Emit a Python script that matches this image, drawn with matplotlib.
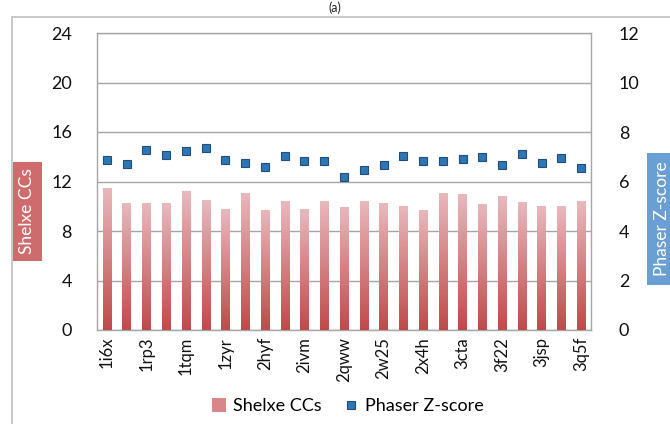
import numpy as np
import matplotlib.pyplot as plt
from matplotlib.patches import Rectangle, Patch
from matplotlib.lines import Line2D
from matplotlib.colors import LinearSegmentedColormap

plt.rcParams['font.family'] = ['Lato', 'DejaVu Sans']

# data
categories = ['1i6x', '', '1rp3', '', '1tqm', '', '1zyr', '', '2hyf', '', '2ivm', '',
              '2qww', '', '2w25', '', '2x4h', '', '3cta', '', '3f22', '', '3jsp', '', '3q5f']
shelxe_cc = [11.5, 10.3, 10.3, 10.25, 11.2, 10.5, 9.75, 11.1, 9.7, 10.4, 9.75, 10.4, 9.95,
             10.4, 10.25, 10.05, 9.7, 11.1, 11.0, 10.2, 10.8, 10.35, 10.05, 10.0, 10.4]
phaser_z = [6.87, 6.71, 7.27, 7.06, 7.25, 7.35, 6.88, 6.75, 6.6, 7.03, 6.84, 6.81, 6.17,
            6.45, 6.65, 7.03, 6.84, 6.81, 6.92, 7.0, 6.68, 7.11, 6.76, 6.96, 6.56]
left_ticks = [0, 4, 8, 12, 16, 20, 24]
right_ticks = [0, 2, 4, 6, 8, 10, 12]

W, H = 670, 424
fig = plt.figure(figsize=(6.7, 4.24), dpi=100)
fig.patch.set_facecolor('white')

def px(x0, y0, w, h):
    # pixel box (top-left origin) -> figure fraction
    return [x0 / W, 1 - (y0 + h) / H, w / W, h / H]

# outer frame of the chart
fig.patches.append(Rectangle((12 / W, -0.1), 1.2, 1 - 17 / H + 0.1, transform=fig.transFigure,
                             fill=False, edgecolor='#bfbfbf', lw=1.2))
fig.text(0.5, 1 - 1 / H, '(a)', ha='center', va='top', fontsize=9, color='#222222')

ax = fig.add_axes(px(97, 33, 494, 297))
x = np.arange(len(categories))
bw = 0.42

cmap = LinearSegmentedColormap.from_list('bar', ['#bf4a4a', '#e9b9bd'])
grad = np.linspace(0, 1, 256).reshape(-1, 1)
bars = ax.bar(x, shelxe_cc, width=bw, color='none', zorder=3)
for b in bars:
    x0, w, h = b.get_x(), b.get_width(), b.get_height()
    im = ax.imshow(grad, cmap=cmap, origin='lower', aspect='auto',
                   extent=(x0, x0 + w, 0, h), zorder=3)
    im.set_clip_path(b)

ax.set_xlim(-0.5, len(categories) - 0.5)
ax.set_ylim(0, 24)
ax.set_yticks(left_ticks)
ax.set_xticks(x)
ax.set_xticklabels(categories, rotation=90, fontsize=12, color='#111111')
ax.tick_params(axis='x', length=0, pad=5)
ax.tick_params(axis='y', length=0, pad=18, labelsize=13, labelcolor='#111111')
ax.grid(axis='y', color='#a6a6a6', lw=1, zorder=0)
ax.set_axisbelow(True)
for s in ax.spines.values():
    s.set_color('#a6a6a6')
    s.set_linewidth(1)

ax2 = ax.twinx()
ax2.plot(x, phaser_z, ls='none', marker='s', ms=6, color='#2e75b6',
         markeredgecolor='#1f4e79', markeredgewidth=0.8, zorder=4)
ax2.set_ylim(0, 12)
ax2.set_yticks(right_ticks)
ax2.tick_params(axis='y', length=0, pad=20, labelsize=13, labelcolor='#111111')
for s in ax2.spines.values():
    s.set_visible(False)

# axis title boxes
fig.patches.append(Rectangle((13 / W, 1 - 261 / H), 29 / W, 99 / H, transform=fig.transFigure,
                             facecolor='#cf6b6d', edgecolor='none'))
fig.text(27.5 / W, 1 - 211.5 / H, 'Shelxe CCs', rotation=90, ha='center', va='center',
         color='white', fontsize=12.5)
fig.patches.append(Rectangle((647 / W, 1 - 285 / H), 40 / W, 132 / H, transform=fig.transFigure,
                             facecolor='#6a9fd3', edgecolor='none'))
fig.text(662 / W, 1 - 219 / H, 'Phaser Z-score', rotation=90, ha='center', va='center',
         color='white', fontsize=12.5)

handles = [Patch(facecolor='#d9868a', edgecolor='none'),
           Line2D([], [], ls='none', marker='s', ms=6, color='#2e75b6',
                  markeredgecolor='#1f4e79', markeredgewidth=0.8)]
fig.legend(handles, ['Shelxe CCs', 'Phaser Z-score'], loc='center', ncol=2, frameon=False,
           bbox_to_anchor=(348 / W, 18 / H), fontsize=13, handlelength=0.8,
           handleheight=0.8, columnspacing=1.2, handletextpad=0.4)

fig.savefig('out.png', dpi=100)
